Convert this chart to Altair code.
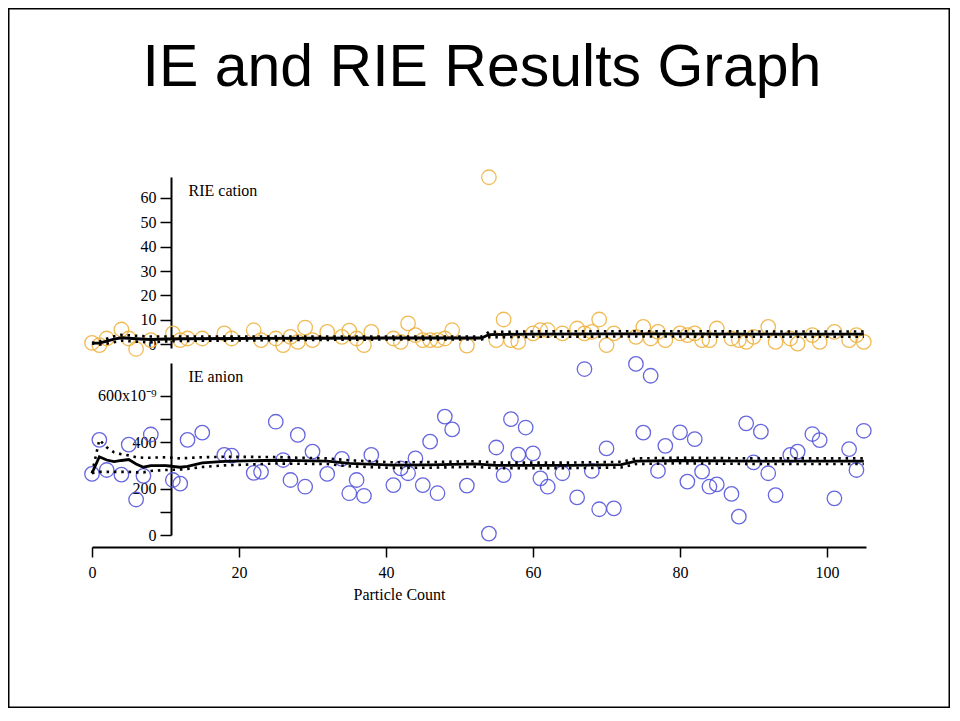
import altair as alt
import pandas as pd

# ---------------- data ----------------
title_text = ["IE and RIE Results Graph"]

# RIE cation (orange circles)
cat_x = [0, 1, 2, 4, 5, 6, 8, 11, 12, 13, 15, 18, 19, 22, 23, 25, 26, 27, 28, 29, 30, 32,
         34, 35, 36, 37, 38, 41, 42, 43, 44, 45, 46, 47, 48, 49, 51, 54, 55, 56, 57, 58,
         60, 61, 62, 64, 66, 67, 68, 69, 70, 71, 74, 75, 76, 77, 78, 80, 81, 82, 83, 84,
         85, 87, 88, 89, 90, 92, 93, 95, 96, 98, 99, 101, 103, 104, 105]
cat_v = [0.5, -0.4, 2.3, 6.0, 2.3, -2.0, 1.6, 4.4, 1.6, 2.3, 2.3, 4.4, 2.3, 5.7, 1.6, 2.3,
         -0.4, 3.0, 0.9, 6.8, 1.6, 5.0, 3.0, 5.5, 2.3, -0.4, 5.0, 2.3, 0.9, 8.5, 3.7, 1.6,
         1.6, 1.6, 2.3, 5.7, -0.6, 68.5, 1.6, 10.1, 1.6, 0.9, 4.4, 5.7, 5.7, 4.4, 6.4, 4.4,
         5.0, 10.1, -0.4, 4.4, 3.0, 7.1, 2.3, 5.0, 1.6, 4.4, 3.7, 4.4, 1.6, 1.6, 6.4, 2.3,
         1.6, 0.9, 3.0, 7.1, 0.9, 2.3, 0.2, 3.7, 0.9, 5.0, 1.6, 3.7, 0.9]

# IE anion (blue circles), in units of 1e-9
an_x = [0, 1, 2, 4, 5, 6, 7, 8, 11, 12, 13, 15, 18, 19, 22, 23, 25, 26, 27, 28, 29, 30, 32,
        34, 35, 36, 37, 38, 41, 42, 43, 44, 45, 46, 47, 48, 49, 51, 54, 55, 56, 57, 58, 59,
        60, 61, 62, 64, 66, 67, 68, 69, 70, 71, 74, 75, 76, 77, 78, 80, 81, 82, 83, 84, 85,
        87, 88, 89, 90, 91, 92, 93, 95, 96, 98, 99, 101, 103, 104, 105]
an_v = [263, 410, 280, 260, 389, 153, 255, 433, 237, 221, 410, 441, 345, 342, 268, 272, 488,
        323, 237, 431, 208, 359, 263, 328, 180, 237, 169, 345, 215, 287, 266, 330, 215, 402,
        180, 510, 455, 213, 6, 377, 258, 499, 346, 463, 352, 244, 208, 266, 162, 715, 276,
        111, 373, 115, 737, 441, 686, 276, 384, 442, 230, 413, 273, 208, 218, 177, 79, 481,
        313, 445, 266, 172, 345, 359, 435, 409, 158, 370, 280, 449]

# running mean and limits, RIE cation
top_x = [0, 1, 2, 3, 4, 6, 8, 10, 12, 20, 30, 40, 53, 54, 60, 70, 80, 90, 105]
top_mean = [0.4, 0.4, 1.2, 2.0, 2.6, 2.2, 1.9, 2.1, 2.2, 2.3, 2.4, 2.5, 2.5, 3.9, 4.1, 4.2, 4.2, 4.1, 4.1]
top_up = [0.4, 1.0, 2.2, 3.2, 3.8, 3.4, 3.1, 3.1, 3.1, 3.1, 3.1, 3.1, 3.1, 5.0, 5.2, 5.3, 5.3, 5.2, 5.2]
top_lo = [0.4, -0.2, 0.2, 0.8, 1.4, 1.0, 0.7, 1.1, 1.3, 1.5, 1.7, 1.9, 1.9, 2.8, 3.0, 3.1, 3.1, 3.0, 3.0]

# running mean and limits, IE anion
bot_x = [0, 1, 2, 3, 4, 5, 6, 7, 8, 10, 12, 13, 15, 18, 25, 28, 32, 35, 41, 46, 52, 55, 65,
         72, 74, 80, 90, 105]
bot_mean = [266, 337, 323, 316, 321, 325, 306, 292, 299, 299, 292, 296, 311, 317, 322, 320,
            318, 309, 301, 302, 306, 300, 300, 303, 318, 321, 318, 318]
bot_up = [266, 410, 378, 356, 348, 343, 335, 333, 333, 335, 330, 332, 335, 337, 336, 333,
          330, 322, 313, 314, 318, 312, 312, 315, 330, 333, 330, 330]
bot_lo = [266, 272, 272, 272, 272, 272, 270, 270, 276, 280, 282, 285, 293, 300, 308, 307,
          306, 296, 289, 290, 294, 288, 288, 291, 306, 309, 306, 306]

x_ticks = [0, 20, 40, 60, 80, 100]
top_ticks = [0, 10, 20, 30, 40, 50, 60]
bot_ticks = [0, 100, 200, 300, 400, 500, 600]

# ---------------- chart ----------------
W, H = 942, 700
SERIF = "Liberation Serif"
FS = 16
ORANGE = "#EFB443"
BLUE = "#5656DC"

x_axis = alt.Axis(orient="bottom", offset=(547 - 8) - H, values=x_ticks, format="d",
                  title="Particle Count", titleX=399 - 8, titleY=52, titleAlign="center",
                  titleBaseline="alphabetic", titleFont=SERIF, titleFontSize=FS,
                  titleFontWeight="normal", titleColor="black",
                  labelFont=SERIF, labelFontSize=FS, labelColor="black", labelPadding=7,
                  tickSize=10, tickWidth=1.5, tickColor="black", domainColor="black",
                  domainWidth=2, grid=False, labelFlush=False, labelOverlap=False)
xenc = alt.X("x:Q", scale=alt.Scale(domain=[0, 105.3], range=[92 - 8, 866 - 8],
                                    nice=False, zero=False), axis=x_axis)


def yaxis(vals, title, ty, label_expr=None):
    kw = dict(orient="left", offset=-(171 - 8), values=vals, title=title, titleAngle=0,
              titleX=17, titleY=ty, titleAlign="left", titleBaseline="alphabetic",
              titleFont=SERIF, titleFontSize=FS, titleFontWeight="normal",
              titleColor="black", labelFont=SERIF, labelFontSize=FS, labelColor="black",
              labelPadding=4, tickSize=11, tickWidth=1.5, tickColor="black",
              domainColor="black", domainWidth=2, grid=False, labelOverlap=False,
              labelFlush=False)
    if label_expr:
        kw["labelExpr"] = label_expr
    return alt.Axis(**kw)


top_axis = yaxis(top_ticks, "RIE cation", 195 - 8)
bot_axis = yaxis(bot_ticks, "IE anion", 381 - 8,
                 "datum.value == 600 ? '600x10⁻⁹' : (datum.value % 200 == 0 ? datum.label : '')")

top_y = alt.Y("v:Q", scale=alt.Scale(domain=[-1.6, 68.6], range=[348 - 8, 177 - 8],
                                     nice=False, zero=False), axis=top_axis)
bot_y = alt.Y("v:Q", scale=alt.Scale(domain=[0, 741], range=[535 - 8, 363 - 8],
                                     nice=False, zero=False), axis=bot_axis)

cat_df = pd.DataFrame({"x": cat_x, "v": cat_v})
an_df = pd.DataFrame({"x": an_x, "v": an_v})
top_mean_df = pd.DataFrame({"x": top_x, "v": top_mean})
top_up_df = pd.DataFrame({"x": top_x, "v": top_up})
top_lo_df = pd.DataFrame({"x": top_x, "v": top_lo})
bot_mean_df = pd.DataFrame({"x": bot_x, "v": bot_mean})
bot_up_df = pd.DataFrame({"x": bot_x, "v": bot_up})
bot_lo_df = pd.DataFrame({"x": bot_x, "v": bot_lo})

DOT = [2.5, 4.85]


def panel(points_df, color, mean_df, up_df, lo_df, yenc):
    pts = alt.Chart(points_df).mark_point(shape="circle", size=210, filled=False,
                                          stroke=color, strokeWidth=1.3, opacity=0.9,
                                          clip=False).encode(x=xenc, y=yenc)
    up = alt.Chart(up_df).mark_line(color="black", strokeWidth=2.6,
                                    strokeDash=DOT).encode(x=xenc, y=yenc)
    lo = alt.Chart(lo_df).mark_line(color="black", strokeWidth=2.6,
                                    strokeDash=DOT).encode(x=xenc, y=yenc)
    mean = alt.Chart(mean_df).mark_line(color="black", strokeWidth=2.8).encode(x=xenc, y=yenc)
    return alt.layer(pts, up, lo, mean)


top = panel(cat_df, ORANGE, top_mean_df, top_up_df, top_lo_df, top_y)
bottom = panel(an_df, BLUE, bot_mean_df, bot_up_df, bot_lo_df, bot_y)

title = alt.Chart(pd.DataFrame({"t": title_text})).mark_text(
    font="Liberation Sans", fontSize=59, color="black", align="center",
    baseline="alphabetic"
).encode(text="t:N", x=alt.value(482 - 8), y=alt.value(86 - 8))

chart = alt.layer(top, bottom, title).resolve_scale(y="independent").resolve_axis(
    y="independent"
).properties(
    width=W, height=H, padding=0,
).configure_view(stroke="black", strokeWidth=3)

chart.save("out.html", embed_options={"renderer": "svg", "actions": False})
